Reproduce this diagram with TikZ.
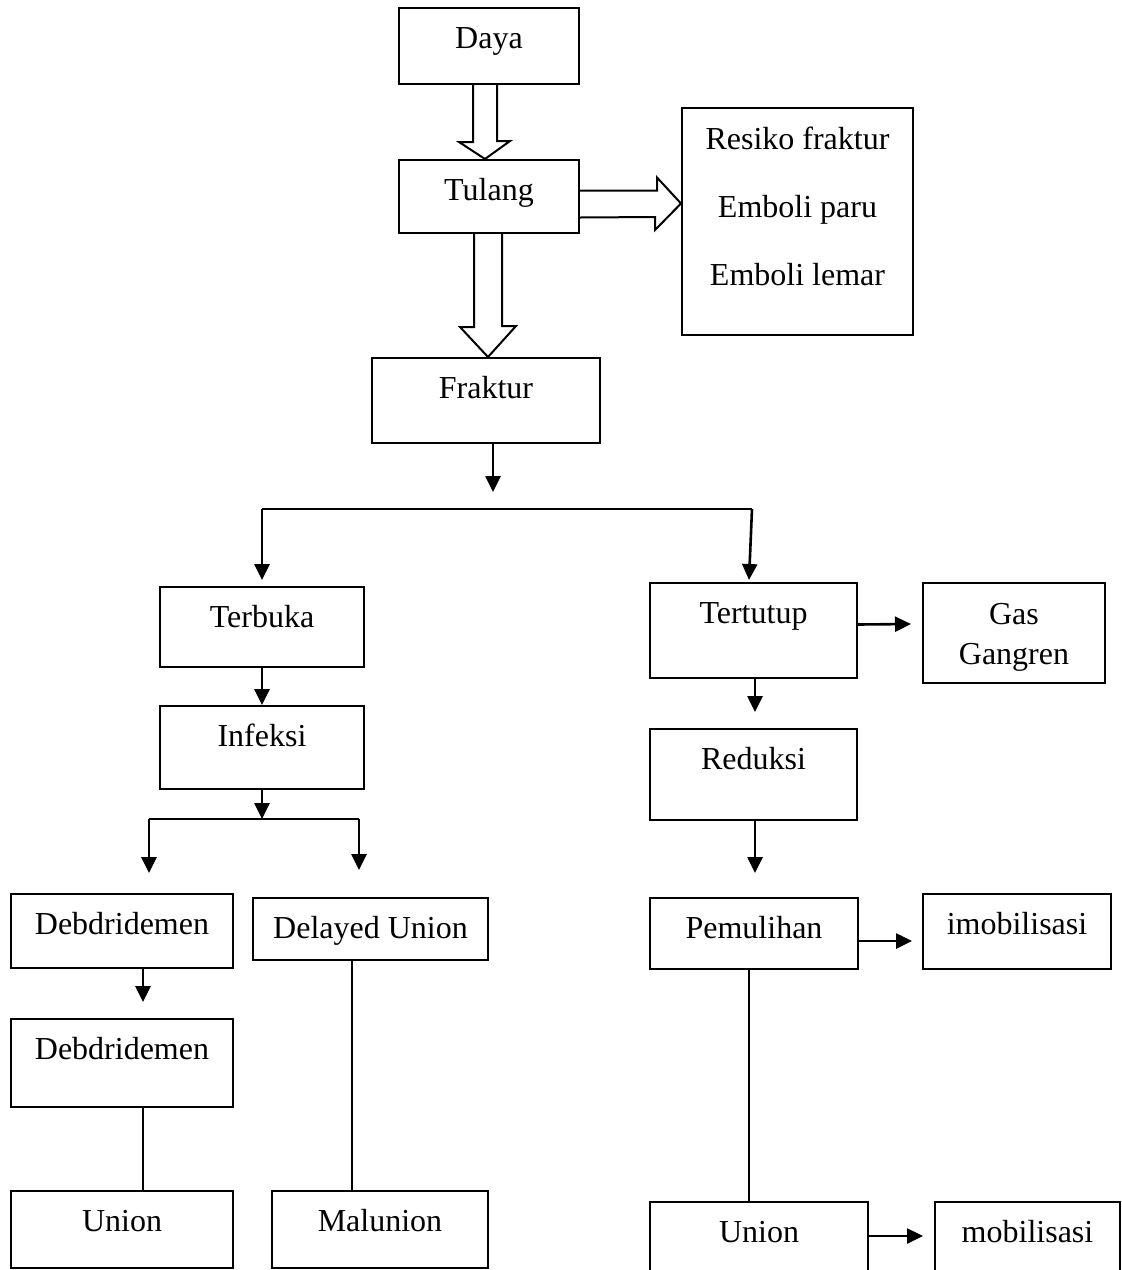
\documentclass[tikz,border=0pt]{standalone}
\usepackage{fontspec}
\setmainfont{Liberation Serif}
\usepackage{tikz}
\usetikzlibrary{calc,arrows.meta}

\begin{document}
\begin{tikzpicture}[x=1pt, y=-1pt,
        box/.style 2 args={draw=black, line width=2pt, inner sep=0pt, anchor=north, align=center,
            font=\fontsize{32}{40}\selectfont, minimum width=#1, text height=40pt, text depth=#2pt},
        arr/.style={line width=2.6pt, -{Triangle[width=15pt,length=16pt]}},
        link/.style={line width=2.6pt},
        hollow/.style={line width=2pt, line join=miter}
        ]
            \useasboundingbox (0,0) rectangle (1122,1270);

            \node[box={180}{36}] (Daya) at (489,7) {Daya};
            \node[box={180}{33}] (Tulang) at (489,159) {Tulang};
            \node[box={228}{45}] (Fraktur) at (486,357) {Fraktur};
            \node[box={231}{50}, text height=177pt] (Resiko) at (797.5,107) {Resiko fraktur\\[28pt]Emboli paru\\[28pt]Emboli lemar};

            \node[box={204}{40}] (Terbuka) at (262,586) {Terbuka};
            \node[box={204}{43}] (Infeksi) at (262,705) {Infeksi};
            \node[box={222}{34}] (Debd1) at (122,893) {Debdridemen};
            \node[box={235}{22}] (Delayed) at (370.5,897) {Delayed Union};
            \node[box={222}{48}] (Debd2) at (122,1018) {Debdridemen};
            \node[box={222}{37}] (UnionL) at (122,1190) {Union};
            \node[box={216}{37}] (Malunion) at (380,1190) {Malunion};

            \node[box={207}{55}] (Tertutup) at (753.5,582) {Tertutup};
            \node[box={182}{19}, text height=81pt] (Gas) at (1014,582) {Gas\\Gangren};
            \node[box={207}{51}] (Reduksi) at (753.5,728) {Reduksi};
            \node[box={208}{31}] (Pemulihan) at (754,897) {Pemulihan};
            \node[box={188}{35}] (imobilisasi) at (1017,893) {imobilisasi};
            \node[box={218}{40}] (UnionR) at (759,1201) {Union};
            \node[box={185}{40}] (mobilisasi) at (1027.5,1201) {mobilisasi};

            \coordinate (b1M) at (493,492);
            \coordinate (b1L) at (262,509);
            \coordinate (b1R) at (752,509);
            \coordinate (b2M) at (262,819);
            \coordinate (b2L) at (149,819);
            \coordinate (b2R) at (359,819);

            % hollow arrows
            \draw[hollow] ($(Daya.south)+(-16,0)$) -- ++(0,57) -- ++(-14,0) -- ($(Tulang.north)+(-4,0)$)
                -- ++(25,-18) -- ++(-13,0) -- ($(Daya.south)+(8,0)$);
            \draw[hollow] ($(Tulang.south)+(-15,0)$) -- ++(0,93) -- ++(-14,0) -- ($(Fraktur.north)+(2,0)$)
                -- ++(28,-31) -- ++(-14,0) -- ($(Tulang.south)+(13,0)$);
            \draw[hollow] ($(Tulang.east)+(0,-6)$) -- ++(77,0) -- ++(0,-13) -- ($(Resiko.west)+(0,-18)$)
                -- ++(-26,26.5) -- ++(0,-13) -- ($(Tulang.east)+(0,21)$);

            \draw[arr] ($(Fraktur.south)+(7,0)$) -- (b1M);
            \draw[link] (b1L) -- (b1R);
            \draw[arr] (b1L) -- ($(Terbuka.north)+(0,-6)$);
            \draw[arr] (b1R) -- ($(Tertutup.north)+(-4.5,-2)$);

            \draw[arr] (Terbuka.south) -- (Infeksi.north);
            \draw[arr] (Infeksi.south) -- (b2M);
            \draw[link] (b2L) -- (b2R);
            \draw[arr] (b2L) -- ($(b2L |- Debd1.north)+(0,-20)$);
            \draw[arr] (b2R) -- ($(b2R |- Delayed.north)+(0,-27)$);
            \draw[arr] ($(Debd1.south)+(21,0)$) -- ($(Debd2.north)+(21,-16)$);
            \draw[link] ($(Debd2.south)+(21,0)$) -- ($(UnionL.north)+(21,0)$);
            \draw[link] ($(Delayed.south)+(-18.5,0)$) -- ($(Malunion.north)+(-28,0)$);

            \draw[arr] ($(Tertutup.east)+(0,-6)$) -- ($(Gas.west)+(-11,-9)$);
            \draw[arr] ($(Tertutup.south)+(1.5,0)$) -- ($(Reduksi.north)+(1.5,-16)$);
            \draw[arr] ($(Reduksi.south)+(1.5,0)$) -- ($(Pemulihan.north)+(1,-24)$);
            \draw[arr] ($(Pemulihan.east)+(0,7.5)$) -- ($(imobilisasi.west)+(-10,9.5)$);
            \draw[link] ($(Pemulihan.south)+(-5,0)$) -- ($(UnionR.north)+(-10,0)$);
            \draw[arr] ($(UnionR.east)+(0,-6)$) -- ($(mobilisasi.west)+(-11,-6)$);

        \end{tikzpicture}
\end{document}
